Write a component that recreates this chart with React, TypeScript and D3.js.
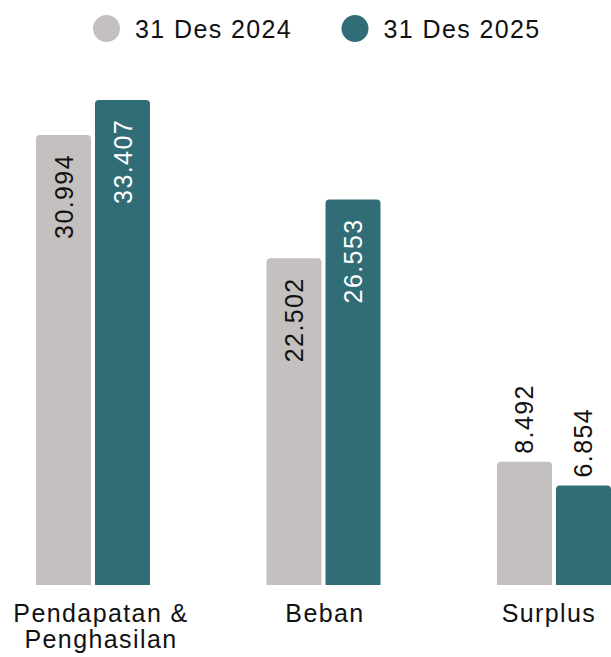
import React from "react";
import * as d3 from "d3";

const categories = ["Pendapatan & Penghasilan", "Beban", "Surplus"];
const categoryLines = [["Pendapatan &", "Penghasilan"], ["Beban"], ["Surplus"]];
const seriesNames = ["31 Des 2024", "31 Des 2025"];
const values2024 = [30994, 22502, 8492];
const values2025 = [33407, 26553, 6854];
const seriesColors = ["#c4c0bf", "#316d77"];
const labelColorsInside = ["#111111", "#ffffff"];

const W = 611;
const H = 657;
const FONT = "'Liberation Sans', Arial, Helvetica, sans-serif";
const FS = 25;
const LS = 1.4;

const fmt = (v: number) => d3.format(",")(v).replace(/,/g, ".");

function topRoundedRect(x: number, y: number, w: number, h: number, r: number) {
  const rr = Math.min(r, h, w / 2);
  return `M${x},${y + h}V${y + rr}Q${x},${y} ${x + rr},${y}H${x + w - rr}Q${x + w},${y} ${x + w},${y + rr}V${y + h}Z`;
}

export default function App() {
  const baseline = 585;
  const y = d3.scaleLinear().domain([0, 33407]).range([baseline, 100]);
  const x0 = d3.scaleBand<string>().domain(categories).range([36, 611]).paddingInner(0.5054).paddingOuter(0);
  const x1 = d3.scaleBand<string>().domain(seriesNames).range([0, x0.bandwidth()]).paddingInner(0.0678);
  const labelX = d3.scalePoint<string>().domain(categories).range([101, 549]);
  const series = [values2024, values2025];

  return (
    <svg width={W} height={H} style={{ position: "absolute", left: 0, top: 0, background: "#fff" }} fontFamily={FONT}>
      {/* legend */}
      {seriesNames.map((s, i) => {
        const cx = i === 0 ? 106.5 : 355;
        return (
          <g key={s}>
            <circle cx={cx} cy={28.5} r={13.5} fill={seriesColors[i]} />
            <text x={cx + 28.5} y={38} fontSize={FS} letterSpacing={LS} fill="#111">{s}</text>
          </g>
        );
      })}
      {/* bars */}
      {categories.map((c, ci) => (
        <g key={c} transform={`translate(${x0(c)},0)`}>
          {seriesNames.map((s, si) => {
            const v = series[si][ci];
            const bx = x1(s)!;
            const bw = x1.bandwidth();
            const top = y(v);
            const h = baseline - top;
            const inside = v > 15000;
            const cx = bx + bw / 2;
            const ty = inside ? top + 19 : top - 8;
            return (
              <g key={s}>
                <path d={topRoundedRect(bx, top, bw, h, 4)} fill={seriesColors[si]} />
                <text
                  transform={`translate(${cx + 9},${ty}) rotate(-90)`}
                  textAnchor={inside ? "end" : "start"}
                  fontSize={FS}
                  letterSpacing={LS}
                  fill={inside ? labelColorsInside[si] : "#111"}
                >
                  {fmt(v)}
                </text>
              </g>
            );
          })}
        </g>
      ))}
      {/* category labels */}
      {categories.map((c, ci) => (
        <text key={c} x={labelX(c)} y={622} textAnchor="middle" fontSize={FS} letterSpacing={LS} fill="#111">
          {categoryLines[ci].map((ln, li) => (
            <tspan key={li} x={labelX(c)} dy={li === 0 ? 0 : 26}>{ln}</tspan>
          ))}
        </text>
      ))}
    </svg>
  );
}
